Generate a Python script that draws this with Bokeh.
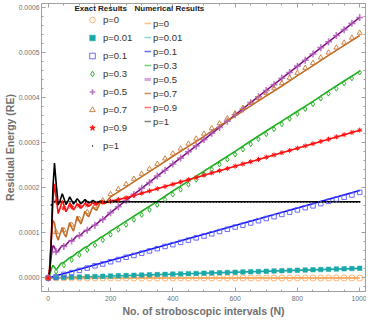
from bokeh.plotting import figure
from bokeh.models import (Range1d, Legend, LegendItem, Label, LinearAxis,
                          SingleIntervalTicker, NumeralTickFormatter, CustomJSTickFormatter)
from bokeh.embed import file_html
from bokeh.resources import INLINE

UNIT = 1e-4  # values below are in units of 1e-4

# ---------------- exact results (markers) ----------------
N_EXACT = list(range(0, 1001, 25))
EX_P0 = [0.0] * 41
EX_P001 = [0, 0.005, 0.011, 0.016, 0.021, 0.027, 0.032, 0.037, 0.043, 0.048, 0.054,
           0.059, 0.064, 0.070, 0.075, 0.080, 0.086, 0.091, 0.096, 0.102, 0.107,
           0.112, 0.118, 0.123, 0.128, 0.134, 0.139, 0.144, 0.150, 0.155, 0.161,
           0.166, 0.171, 0.177, 0.182, 0.187, 0.193, 0.198, 0.203, 0.209, 0.214]
EX_P01 = [0, 0.03, 0.08, 0.12, 0.17, 0.22, 0.27, 0.31, 0.36, 0.41, 0.46, 0.50, 0.55,
          0.60, 0.65, 0.70, 0.74, 0.79, 0.84, 0.89, 0.93, 0.98, 1.03, 1.08, 1.13,
          1.17, 1.22, 1.27, 1.32, 1.36, 1.41, 1.46, 1.51, 1.56, 1.60, 1.65, 1.70,
          1.75, 1.79, 1.84, 1.90]
EX_P03 = [0, 0.14, 0.28, 0.40, 0.51, 0.62, 0.73, 0.84, 0.96, 1.07, 1.18, 1.29, 1.40,
          1.51, 1.62, 1.74, 1.85, 1.96, 2.07, 2.18, 2.30, 2.41, 2.52, 2.63, 2.74,
          2.85, 2.97, 3.08, 3.19, 3.30, 3.41, 3.53, 3.64, 3.75, 3.86, 3.98, 4.09,
          4.20, 4.32, 4.43, 4.56]
EX_P05 = [0, 0.58, 0.70, 0.82, 0.94, 1.06, 1.17, 1.30, 1.45, 1.58, 1.72, 1.85, 1.99,
          2.12, 2.26, 2.39, 2.53, 2.66, 2.80, 2.93, 3.07, 3.21, 3.34, 3.48, 3.62,
          3.75, 3.89, 4.02, 4.16, 4.29, 4.43, 4.56, 4.70, 4.83, 4.97, 5.11, 5.24,
          5.38, 5.51, 5.65, 5.78]
EX_P07 = [0, 1.02, 1.06, 1.18, 1.31, 1.46, 1.59, 1.72, 1.86, 1.97, 2.08, 2.20, 2.31,
          2.42, 2.53, 2.65, 2.76, 2.87, 2.98, 3.09, 3.20, 3.32, 3.43, 3.54, 3.65,
          3.77, 3.88, 3.99, 4.10, 4.21, 4.32, 4.44, 4.55, 4.66, 4.77, 4.89, 5.00,
          5.11, 5.22, 5.33, 5.44]
EX_P09 = [0, 1.70, 1.55, 1.58, 1.60, 1.62, 1.65, 1.68, 1.70, 1.74, 1.78, 1.83, 1.88,
          1.93, 1.98, 2.03, 2.08, 2.13, 2.18, 2.23, 2.28, 2.33, 2.38, 2.43, 2.48,
          2.53, 2.58, 2.63, 2.68, 2.73, 2.78, 2.83, 2.88, 2.93, 2.98, 3.03, 3.08,
          3.13, 3.18, 3.23, 3.28]
N_EXACT_P1 = list(range(10, 1001, 10))
EX_P1 = [1.62] + [1.69] * 99

# ---------------- numerical results (lines) ----------------
N_LIN = [0, 1000]
NUM_P0 = [0, 0]
NUM_P001 = [0, 0.214]
NUM_P01 = [0, 1.94]
N_OSC = [0, 5, 10, 15, 20, 26, 32, 38, 45, 51, 57, 63, 69, 75, 81, 87, 93, 99, 105,
         112, 118, 124, 130, 137, 143, 149, 155, 162, 168, 175, 181, 190, 200,
         250, 300, 350, 400, 450, 500, 550, 600, 650, 700, 750, 800, 850, 900, 950, 1000]
NUM_P03 = [0, 0.08, 0.2, 0.28, 0.24, 0.18, 0.24, 0.30, 0.34, 0.35, 0.38, 0.42, 0.45,
           0.47, 0.49, 0.53, 0.57, 0.58, 0.61, 0.65, 0.68, 0.69, 0.72, 0.76, 0.79,
           0.81, 0.83, 0.87, 0.90, 0.92, 0.95, 0.99, 1.04,
           1.26, 1.48, 1.70, 1.93, 2.15, 2.37, 2.59, 2.81, 3.04, 3.26, 3.48, 3.70,
           3.92, 4.15, 4.37, 4.59]
NUM_P05 = [0, 0.2, 0.5, 0.72, 0.68, 0.57, 0.60, 0.66, 0.72, 0.71, 0.73, 0.78, 0.83,
           0.82, 0.85, 0.90, 0.94, 0.93, 0.96, 1.01, 1.05, 1.05, 1.08, 1.12, 1.16,
           1.17, 1.20, 1.24, 1.28, 1.30, 1.33, 1.39, 1.45,
           1.72, 1.99, 2.26, 2.53, 2.80, 3.07, 3.34, 3.62, 3.89, 4.16, 4.43, 4.70,
           4.97, 5.24, 5.51, 5.78]
NUM_P07 = [0, 0.3, 0.9, 1.28, 1.22, 0.95, 0.84, 0.98, 1.12, 0.98, 0.91, 1.08, 1.23,
           1.12, 1.04, 1.20, 1.37, 1.27, 1.20, 1.35, 1.48, 1.40, 1.36, 1.48, 1.58,
           1.53, 1.50, 1.60, 1.68, 1.66, 1.65, 1.72, 1.80,
           2.02, 2.25, 2.47, 2.70, 2.92, 3.14, 3.37, 3.59, 3.82, 4.04, 4.26, 4.49,
           4.71, 4.94, 5.16, 5.38]
NUM_P09 = [0, 0.2, 0.9, 1.7, 2.09, 1.75, 1.43, 1.55, 1.72, 1.60, 1.47, 1.55, 1.66,
           1.58, 1.51, 1.57, 1.65, 1.60, 1.55, 1.60, 1.66, 1.62, 1.59, 1.63, 1.68,
           1.65, 1.62, 1.66, 1.70, 1.68, 1.66, 1.68, 1.70,
           1.78, 1.88, 1.98, 2.08, 2.18, 2.28, 2.38, 2.48, 2.58, 2.68, 2.78, 2.88,
           2.98, 3.08, 3.18, 3.28]
NUM_P1 = [0, 0.15, 0.9, 2.0, 2.55, 2.05, 1.62, 1.72, 1.87, 1.75, 1.63, 1.70, 1.80,
          1.72, 1.64, 1.70, 1.76, 1.71, 1.65, 1.69, 1.74, 1.70, 1.66, 1.69, 1.72,
          1.70, 1.67, 1.69, 1.71, 1.70, 1.68, 1.69, 1.70] + [1.69] * 16

LABELS = ["p=0", "p=0.01", "p=0.1", "p=0.3", "p=0.5", "p=0.7", "p=0.9", "p=1"]

C_OR = "#ff9430"; C_TE = "#1aa8a8"; C_BL = "#0a0aff"; C_GR = "#1cb01c"
C_PU = "#86108a"; C_BR = "#c06a22"; C_RE = "#ff1010"; C_BK = "#000000"


def sc(v):
    return [a * UNIT for a in v]


FONT = "Liberation Sans"
p = figure(width=366, height=319, output_backend="svg", toolbar_location=None,
           x_range=Range1d(-21.7, 1018.6), y_range=Range1d(-0.30e-4, 6.09e-4),
           min_border_left=2, min_border_right=1, min_border_top=3, min_border_bottom=1)
p.xgrid.visible = False
p.ygrid.visible = False
p.outline_line_color = "#a0a0a0"
p.background_fill_color = "white"

p.xaxis.ticker = SingleIntervalTicker(interval=200, num_minor_ticks=4)
p.yaxis.ticker = SingleIntervalTicker(interval=0.0001, num_minor_ticks=5)
p.yaxis.formatter = NumeralTickFormatter(format="0.0000")
p.xaxis.axis_label = "No. of stroboscopic intervals (N)"
p.yaxis.axis_label = "Residual Energy (RE)"
for ax in (p.xaxis[0], p.yaxis[0]):
    ax.axis_line_color = "#a0a0a0"
    ax.major_tick_in = 4
    ax.major_tick_out = 0
    ax.minor_tick_in = 2
    ax.minor_tick_out = 0
    ax.major_tick_line_color = "#a0a0a0"
    ax.minor_tick_line_color = "#a0a0a0"
    ax.major_label_text_color = "#707070"
    ax.major_label_text_font = FONT
    ax.major_label_text_font_size = "6.8px"
    ax.axis_label_text_font = FONT
    ax.axis_label_text_font_style = "bold"
    ax.axis_label_text_color = "#707070"
    ax.axis_label_text_font_size = "10.5px"
p.yaxis.major_label_standoff = 2
p.yaxis.axis_label_standoff = 0
p.xaxis.major_label_standoff = 4
p.xaxis.axis_label_standoff = 1

# frame ticks on the top and right edges (no labels)
blank = CustomJSTickFormatter(code="return ''")
for loc, tick, nminor in (("above", 200, 4), ("right", 0.0001, 5)):
    ax = LinearAxis(ticker=SingleIntervalTicker(interval=tick, num_minor_ticks=nminor),
                    formatter=blank)
    ax.axis_line_color = None
    ax.major_tick_in = 4
    ax.major_tick_out = 0
    ax.minor_tick_in = 2
    ax.minor_tick_out = 0
    ax.major_tick_line_color = "#a0a0a0"
    ax.minor_tick_line_color = "#a0a0a0"
    ax.major_label_standoff = 0
    p.add_layout(ax, loc)

# numerical lines
lw = 1.6
p.line(N_LIN, sc(NUM_P0), color=C_OR, line_width=lw)
p.line(N_LIN, sc(NUM_P001), color=C_TE, line_width=lw)
p.line(N_LIN, sc(NUM_P01), color=C_BL, line_width=lw)
p.line(N_OSC, sc(NUM_P03), color=C_GR, line_width=lw)
p.line(N_OSC, sc(NUM_P05), color=C_PU, line_width=lw)
p.line(N_OSC, sc(NUM_P07), color=C_BR, line_width=lw)
p.line(N_OSC, sc(NUM_P09), color=C_RE, line_width=lw)
p.line(N_OSC, sc(NUM_P1), color=C_BK, line_width=lw)

# exact markers
e0 = p.scatter(N_EXACT, sc(EX_P0), marker="circle", size=6, fill_color=None,
               line_color="#ffaa66", line_width=0.9)
e1 = p.scatter(N_EXACT, sc(EX_P001), marker="square", size=4.5, fill_color=C_TE,
               line_color=C_TE, line_width=0.5)
e2 = p.scatter(N_EXACT, sc(EX_P01), marker="square", size=4.5, fill_color=None,
               line_color="#5a5aff", line_width=0.9)
e3 = p.scatter(N_EXACT, sc(EX_P03), marker="diamond", size=5, fill_color=None,
               line_color="#30b030", line_width=1.0)
e4 = p.scatter(N_EXACT, sc(EX_P05), marker="cross", size=7, line_color="#b060b8",
               line_width=1.6, line_alpha=0.85)
e5 = p.scatter(N_EXACT, sc(EX_P07), marker="triangle", size=5, fill_color=None,
               line_color="#c87a35", line_width=0.9)
e6 = p.scatter(N_EXACT, sc(EX_P09), marker="asterisk", size=5, line_color=C_RE,
               line_width=1.0)
p.scatter(N_EXACT_P1, sc(EX_P1), marker="circle", size=1.8, fill_color=C_BK,
          line_color=None)
# legend-only glyphs kept off-range
e7 = p.scatter([5000], [0], marker="dot", size=10, line_color=C_BK, fill_color=C_BK)
e6l = p.scatter([5000], [0], marker="star", size=6, line_color=C_RE, fill_color=C_RE)

sw_cols = ["#ffc080", "#80d8d8", "#6a6aff", "#70d070", "#d8a8d8", "#c89060", "#ff7070", "#808080"]
sw = [p.line([5000, 5001], [0, 0], color=c, line_width=1.5 if i != 4 else 3)
      for i, c in enumerate(sw_cols)]

leg1 = Legend(items=[LegendItem(label=l, renderers=[r]) for l, r in
                     zip(LABELS, [e0, e1, e2, e3, e4, e5, e6l, e7])],
              location=(44, 138), glyph_width=14, glyph_height=15, label_height=15,
              spacing=3, padding=0, margin=0, label_standoff=4,
              label_text_font=FONT, label_text_font_size="9.5px", label_text_color="#303030",
              background_fill_alpha=0, border_line_alpha=0)
leg2 = Legend(items=[LegendItem(label=l, renderers=[r]) for l, r in zip(LABELS, sw)],
              location=(103, 164), glyph_width=7, glyph_height=12, label_height=12,
              spacing=2, padding=0, margin=0, label_standoff=2,
              label_text_font=FONT, label_text_font_size="9.5px", label_text_color="#303030",
              background_fill_alpha=0, border_line_alpha=0)
p.add_layout(leg1)
p.add_layout(leg2)

for txt, xx in (("Exact Results", 33), ("Numerical Results", 93)):
    p.add_layout(Label(x=xx, y=283, x_units="screen", y_units="screen", text=txt,
                       text_font=FONT, text_font_style="bold", text_font_size="8px",
                       text_color="#202020", text_baseline="middle"))

open("out.html", "w").write(file_html(p, INLINE))
